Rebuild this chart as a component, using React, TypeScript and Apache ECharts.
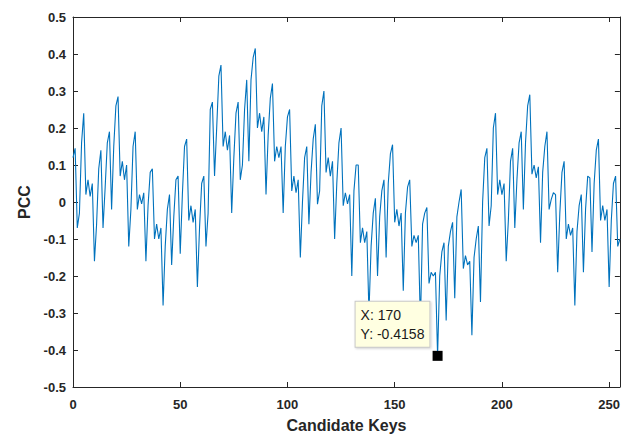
import React, { useEffect, useRef } from "react";
import * as echarts from "echarts";

// PCC per candidate key, keys 0..63
const pccKeys0to63 = [
  0.12, 0.145, -0.07, -0.03, 0.16, 0.24, 0.02, 0.06, 0.015, 0.05, -0.16, -0.06, 0.09, 0.14, -0.07, 0.04,
  0.16, 0.19, -0.02, 0.15, 0.26, 0.285, 0.07, 0.11, 0.06, 0.1, -0.12, -0.02, 0.15, 0.19, -0.02, 0.02,
  -0.005, 0.025, -0.16, -0.01, 0.08, 0.09, -0.1, -0.06, -0.1, -0.07, -0.28, -0.12, -0.02, 0.02, -0.17, -0.04,
  0.06, 0.07, -0.14, 0.02, 0.15, 0.17, -0.05, -0.01, -0.055, -0.02, -0.23, -0.07, 0.05, 0.07, -0.12, -0.03,
];
// keys 64..127
const pccKeys64to127 = [
  0.25, 0.27, 0.07, 0.2, 0.34, 0.37, 0.15, 0.19, 0.14, 0.18, -0.03, 0.12, 0.24, 0.27, 0.06, 0.1,
  0.25, 0.33, 0.11, 0.33, 0.39, 0.415, 0.2, 0.24, 0.19, 0.23, 0.02, 0.18, 0.28, 0.32, 0.11, 0.15,
  0.12, 0.15, -0.03, 0.15, 0.23, 0.25, 0.03, 0.07, 0.025, 0.06, -0.15, 0.0, 0.12, 0.15, -0.06, 0.08,
  0.17, 0.21, -0.006, 0.03, 0.26, 0.3, 0.08, 0.12, 0.07, 0.11, -0.1, 0.05, 0.16, 0.2, -0.01, 0.025,
];
// keys 128..191
const pccKeys128to191 = [
  -0.005, 0.02, -0.2, 0.03, 0.1, 0.1, -0.11, -0.07, -0.11, -0.08, -0.3, -0.12, -0.03, 0.01, -0.2, -0.04,
  0.03, 0.06, -0.15, 0.05, 0.13, 0.155, -0.055, -0.02, -0.065, -0.03, -0.24, -0.03, 0.04, 0.06, -0.12, -0.09,
  -0.11, -0.09, -0.33, -0.06, -0.03, -0.015, -0.22, -0.19, -0.2, -0.19, -0.4158, -0.2, -0.135, -0.11, -0.32, -0.12,
  -0.08, -0.055, -0.26, -0.04, 0.0, 0.034, -0.18, -0.145, -0.17, -0.16, -0.36, -0.15, -0.1, -0.065, -0.27, 0.0,
];
// keys 192..255
const pccKeys192to255 = [
  0.12, 0.145, -0.065, -0.01, 0.2, 0.24, 0.02, 0.06, 0.02, 0.05, -0.16, -0.05, 0.11, 0.145, -0.07, 0.06,
  0.16, 0.19, -0.02, 0.16, 0.26, 0.29, 0.075, 0.1, 0.065, 0.095, -0.11, 0.08, 0.15, 0.19, -0.02, 0.007,
  0.025, 0.02, -0.19, -0.03, 0.08, 0.11, -0.1, -0.06, -0.09, -0.07, -0.28, -0.08, -0.01, 0.02, -0.19, -0.02,
  0.07, 0.065, -0.135, 0.05, 0.14, 0.17, -0.05, -0.01, -0.05, -0.02, -0.23, -0.05, 0.05, 0.07, -0.12, -0.1,
];

const pcc = [...pccKeys0to63, ...pccKeys64to127, ...pccKeys128to191, ...pccKeys192to255];

const xMin = 0;
const xMax = 255;
const xStep = 50;
const yMin = -0.5;
const yMax = 0.5;
const yStep = 0.1;

const tipKey = 170;
const tipValue = -0.4158;

const xTitle = "Candidate Keys";
const yTitle = "PCC";

export default function App() {
  const ref = useRef<HTMLDivElement>(null);

  useEffect(() => {
    if (!ref.current) return;
    const chart = echarts.init(ref.current, null, { renderer: "svg" });
    const axisColor = "#262626";
    const font = "Liberation Sans, Arial, sans-serif";
    const seriesData = pcc.map((v, i) => [i, v]);

    const tickLabel = {
      color: axisColor,
      fontFamily: font,
      fontSize: 13,
      fontWeight: "bold" as const,
    };

    chart.setOption({
      animation: false,
      backgroundColor: "#ffffff",
      grid: { left: 73, right: 1, top: 17, bottom: 47, containLabel: false },
      xAxis: [
        {
          type: "value",
          min: xMin,
          max: xMax,
          interval: xStep,
          position: "bottom",
          name: xTitle,
          nameLocation: "middle",
          nameGap: 30,
          nameTextStyle: { color: axisColor, fontFamily: font, fontSize: 16, fontWeight: "bold" },
          axisLine: { onZero: false, lineStyle: { color: axisColor, width: 1 } },
          axisTick: { inside: true, length: 5, lineStyle: { color: axisColor } },
          axisLabel: {
            ...tickLabel,
            margin: 11,
            showMaxLabel: false,
            formatter: (v: number) => (v % xStep === 0 ? String(v) : ""),
          },
          splitLine: { show: false },
        },
        {
          type: "value",
          min: xMin,
          max: xMax,
          interval: xStep,
          position: "top",
          axisLine: { onZero: false, lineStyle: { color: axisColor, width: 1 } },
          axisTick: { inside: true, length: 5, lineStyle: { color: axisColor } },
          axisLabel: { show: false },
          splitLine: { show: false },
        },
      ],
      yAxis: [
        {
          type: "value",
          min: yMin,
          max: yMax,
          interval: yStep,
          position: "left",
          name: yTitle,
          nameLocation: "middle",
          nameGap: 37,
          nameRotate: 90,
          nameTextStyle: { color: axisColor, fontFamily: font, fontSize: 16, fontWeight: "bold" },
          axisLine: { show: true, onZero: false, lineStyle: { color: axisColor, width: 1 } },
          axisTick: { show: true, inside: true, length: 5, lineStyle: { color: axisColor } },
          axisLabel: {
            ...tickLabel,
            margin: 7,
            padding: [5, 0, 0, 0],
            formatter: (v: number) => (Math.abs(v) < 1e-9 ? "0" : v.toFixed(1)),
          },
          splitLine: { show: false },
        },
        {
          type: "value",
          min: yMin,
          max: yMax,
          interval: yStep,
          position: "right",
          axisLine: { show: true, onZero: false, lineStyle: { color: axisColor, width: 1 } },
          axisTick: { show: true, inside: true, length: 5, lineStyle: { color: axisColor } },
          axisLabel: { show: false },
          splitLine: { show: false },
        },
      ],
      series: [
        {
          type: "line",
          xAxisIndex: 0,
          yAxisIndex: 0,
          data: seriesData,
          showSymbol: false,
          symbol: "none",
          lineStyle: { color: "#0072BD", width: 1.1 },
          silent: true,
          markPoint: {
            symbol: "rect",
            symbolSize: 10,
            silent: true,
            itemStyle: { color: "#000000" },
            data: [{ coord: [tipKey, tipValue], value: tipValue }],
            label: {
              show: true,
              position: [-77, -49],
              align: "left",
              verticalAlign: "top",
              formatter: `X: ${tipKey}\nY: ${tipValue}`,
              color: "#1a1a1a",
              fontFamily: font,
              fontSize: 14,
              lineHeight: 19,
              backgroundColor: "#ffffe1",
              borderColor: "#c8c8c8",
              borderWidth: 1,
              padding: [4, 5, 3, 5],
              shadowColor: "rgba(0,0,0,0.18)",
              shadowBlur: 2,
              shadowOffsetX: 1,
              shadowOffsetY: 1,
            },
          },
        },
      ],
    });

    return () => {
      chart.dispose();
    };
  }, []);

  return (
    <div
      ref={ref}
      style={{ position: "fixed", left: 0, top: 0, width: 623, height: 438, background: "#fff" }}
    />
  );
}
